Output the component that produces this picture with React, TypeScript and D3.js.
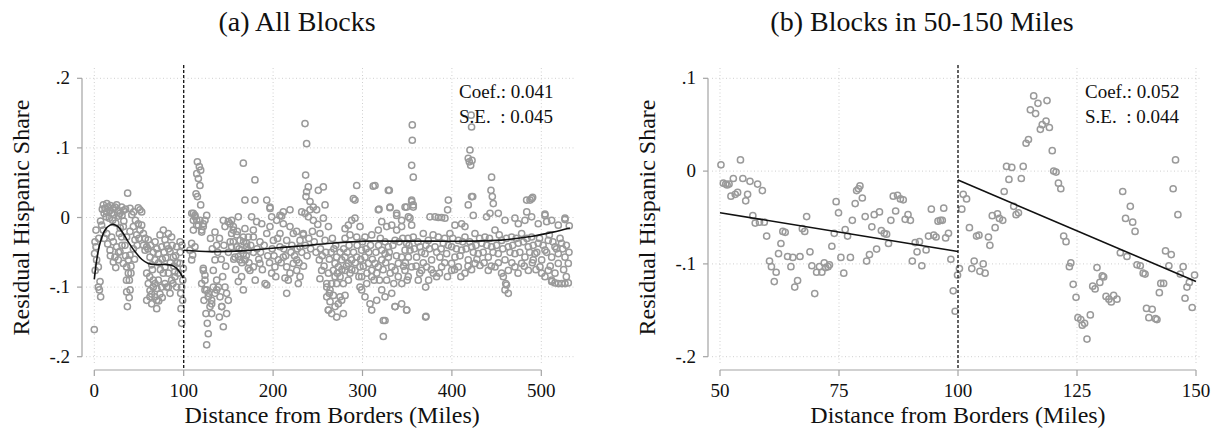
import React from 'react';
import * as d3 from 'd3';

// ---------- DATA ----------
const allXTicks = [0, 100, 200, 300, 400, 500];
const allYTicks = [-0.2, -0.1, 0, 0.1, 0.2];
const bandXTicks = [50, 75, 100, 125, 150];
const bandYTicks = [-0.2, -0.1, 0, 0.1];
const cutoff = 100;
const allStats = ['Coef.: 0.041', 'S.E.  : 0.045'];
const bandStats = ['Coef.: 0.052', 'S.E.  : 0.044'];

const allBlocks: [number, number][] = [
  [0,-0.161],[0.8,-0.035],[1.9,-0.042],[0.3,-0.052],[2.6,-0.061],[4.5,-0.071],[1,-0.076],
  [6.4,-0.092],[5.7,-0.104],[7.1,-0.114],[4.5,-0.1],[1.9,-0.018],
  [10.1,0.018],[12,0.013],[13.9,0.008],[11,0.006],[15.7,0.015],[17.6,0.01],[19.4,0.006],[21.3,0.013],[23.1,0.015],[25,0.018],[26.9,0.01],[28.7,0.006],[30.6,0.015],[32.5,0.01],[13.1,0.001],[16.8,-0.001],[20.5,-0.004],
  [8.2,-0.011],[10.1,-0.018],[13.9,-0.023],[19.4,-0.028],[21.3,-0.035],[25,-0.042],[28.7,-0.049],[17.6,-0.047],[23.1,-0.057],[21.3,-0.064],[26.9,-0.061],[32.5,-0.066],[36.2,-0.071],[38.1,-0.061],[39.9,-0.054],[43.7,-0.045],[45.5,-0.032],[47.4,-0.025],[51.1,-0.018],[53,-0.011],[54.9,-0.023],[49.2,-0.009],[43.7,-0.013],[39.9,-0.02],[36.2,-0.028],[34.3,-0.04],[30.6,-0.028],[32.5,-0.013],[28,-0.023],
  [37.3,0.035],[49.2,0.014],[51.1,0.011],[53,0.008],
  [38.1,-0.08],[39.2,-0.09],[40,-0.104],[37,-0.128],
  [56.8,-0.047],[58.6,-0.042],[62.3,-0.057],[64.2,-0.068],[60.4,-0.032],[67.9,-0.061],[71.6,-0.052],[75.4,-0.042],[79.1,-0.032],[81,-0.04],[84.7,-0.049],[88.4,-0.057],[92.1,-0.042],[95.9,-0.035],[77.2,-0.018],[82.8,-0.023],[73.5,-0.025],[86.5,-0.028],
  [58.6,-0.08],[60.4,-0.095],[62.3,-0.105],[64.2,-0.11],[66,-0.1],[67.9,-0.114],[69.8,-0.119],[64.2,-0.124],[69.8,-0.131],[73.5,-0.11],[75.4,-0.1],[71.6,-0.09],[77.2,-0.08],[66,-0.09],[62.3,-0.114],[58.6,-0.119],
  [79.1,-0.071],[82.8,-0.08],[86.5,-0.09],[90.2,-0.085],[92.1,-0.1],[81,-0.1],[84.7,-0.109],
  [97.7,-0.1],[96.6,-0.109],[98.8,-0.119],[97,-0.131],[97.7,-0.152],[95.9,-0.066],[99.6,-0.073],
  [5,-0.03],[7,-0.005],[9,0.012],[14,0.02],[18,0.017],[22,0.004],[24,-0.008],[27,0.002],[29,-0.015],[31,0.003],[33,-0.005],[35,0.012],[40,0.013],[42,0.004],[44,0.008],[46,-0.004],[11,-0.03],[15,-0.038],[18,-0.055],[24,-0.072],[27,-0.05],[31,-0.04],[35,-0.055],[41,-0.07],[45,-0.06],[48,-0.04],[50,-0.03],[55,-0.04],[57,-0.03],[60,-0.045],[63,-0.04],[66,-0.05],[68,-0.035],[70,-0.045],[72,-0.065],[74,-0.075],[76,-0.06],[78,-0.05],[80,-0.058],[83,-0.045],[85,-0.065],[87,-0.04],[89,-0.07],[91,-0.055],[93,-0.065],[94,-0.08],[96,-0.05],[98,-0.04],[99,-0.09],[62,-0.085],[65,-0.075],[68,-0.095],[70,-0.102],[72,-0.12],[76,-0.115],[79,-0.095],[83,-0.1],[88,-0.095],[90,-0.078],[36,-0.09],[39,-0.115],[41,-0.08],[36.2,-0.107],
  [115.3,0.08],[117.5,0.073],[119,0.068],[114.6,0.063],[116.4,0.056],[118.2,0.046],[113.8,0.034],[115.3,0.03],[119,0.018],
  [110.8,0.006],[112.7,0.001],[114.6,-0.004],[116.4,-0.011],[110.8,-0.018],[122,-0.009],[120.1,-0.021],[125.7,0.003],[123.8,-0.004],
  [108.9,-0.037],[112.6,-0.042],[110,-0.054],[122,-0.076],[123.8,-0.09],[125.7,-0.104],[122.7,-0.119],[127.5,-0.109],[129.4,-0.128],[124.9,-0.138],[126.4,-0.152],[127.5,-0.167],[125.7,-0.183],[131.3,-0.138],[131.3,-0.119],[135,-0.061],[133.1,-0.076],[136.9,-0.09],[136.9,-0.104],[140.6,-0.114],[142.5,-0.128],[139.9,-0.143],[144.3,-0.157],[148,-0.138],[148,-0.109],[149.9,-0.119],[146.2,-0.1],[143.6,-0.085],
  [135,-0.021],[136.9,-0.04],[144.3,-0.004],[151.8,-0.009],[153.6,-0.023],[155.5,-0.035],[159.2,-0.042],[157.4,-0.057],[163,-0.061],[166.7,-0.052],[170.4,-0.042],[172.3,-0.028],[168.5,-0.016],[177.9,-0.018],[181.6,-0.006],[176,0.001],[179.7,0.025],[168.5,0.025],[166.7,0.078],[179.7,0.054],[161.1,0.001],[155.5,-0.013],
  [164.8,-0.085],[161.1,-0.092],[166.7,-0.104],[174.1,-0.076],[177.9,-0.071],[185.3,-0.066],[191,-0.095],[192.9,-0.097],[198.4,-0.08],[202.1,-0.071],[205.9,-0.061],[211.4,-0.057],[215.2,-0.071],[218.9,-0.08],[213.3,-0.087],[222.6,-0.066],[226.4,-0.076],[230.1,-0.085],[228.2,-0.095],[215.2,-0.109],
  [177.9,-0.028],[185.3,-0.035],[192.9,-0.023],[200.3,-0.033],[207.7,-0.042],[215.2,-0.033],[222.6,-0.023],[230.1,-0.033],[207.7,-0.023],[187.3,-0.009],[196.5,-0.013],[204,-0.004],[211.4,-0.009],[218.9,-0.013],[226.4,-0.02],[233.8,-0.025],
  [196.5,0.015],[207.7,0.003],[211.4,0.008],[218.9,0.011],[192.9,0.025],[198.4,0.001],[196.6,0.013],[209.6,0.002],
  [235.7,0.135],[237.5,0.106],[236.4,0.061],[239.4,0.044],[237.5,0.037],[236.8,0.03],[241.3,0.023],
  [232,0.008],[235.7,0.006],[241.3,0.011],[245,0.015],[248.7,0.011],[239.4,0.001],[245,-0.004],
  [250.6,0.039],[256.2,0.044],[258.1,0.018],[256.2,-0.001],[261.9,-0.013],[252.4,-0.023],[258.1,-0.033],
  [251.7,-0.061],[254.3,-0.076],[252.4,-0.088],[261.9,-0.08],[260,-0.1],[262.9,-0.109],[261.9,-0.133],
  [233.8,-0.023],[230.1,-0.042],[226.4,-0.061],
  [109,0.006],[110.8,-0.004],[112.6,0.003],[114.5,-0.011],[118.2,-0.004],[120.1,-0.018],[121.9,-0.013],
  [107,-0.047],[108.9,-0.061],[121.9,-0.073],[123.8,-0.083],[120.1,-0.095],[123.8,-0.104],[127.5,-0.114],[131.3,-0.124],[135,-0.109],[138.8,-0.1],[133.1,-0.1],[142.5,-0.128],
  [146.2,-0.013],[149.9,-0.006],[153.6,-0.004],[155.5,-0.018],[159.2,-0.025],[163,-0.033],[166.7,-0.028],[170.4,-0.037],[172.3,-0.047],[164.8,-0.047],[161.1,-0.056],[153.6,-0.042],[168.5,-0.061],[172.3,-0.073],
  [130,-0.03],[132,-0.045],[138,-0.05],[140,-0.03],[142,-0.06],[145,-0.04],[147,-0.07],[150,-0.05],[152,-0.035],[156,-0.06],[158,-0.075],[160,-0.02],[162,-0.045],[165,-0.065],[167,-0.035],[170,-0.055],[173,-0.065],[175,-0.04],[178,-0.05],[180,-0.09],
  [182,-0.045],[184,-0.06],[186,-0.05],[188,-0.075],[190,-0.04],[194,-0.055],[196,-0.065],[199,-0.045],[201,-0.055],[203,-0.085],[205,-0.03],[209,-0.065],[212,-0.045],[214,-0.055],[217,-0.09],[220,-0.05],[221,-0.04],[224,-0.055],[227,-0.045],[229,-0.065],[232,-0.05],[234,-0.07],[236,-0.04],[238,-0.055],[240,-0.03],[242,-0.045],[244,-0.02],[246,-0.035],[248,-0.05],[250,-0.01],[253,-0.045],[255,-0.055],[257,-0.07],[259,-0.05],[263,-0.06],
  [266.3,-0.03],
  [271.1,-0.057],[269.3,-0.066],[267.4,-0.076],[273,-0.071],[276.7,-0.061],[280.5,-0.057],[284.2,-0.066],[287.9,-0.061],[293.5,-0.057],[297.2,-0.071],[291.6,-0.076],[286,-0.08],[280.5,-0.076],[274.9,-0.085],[269.3,-0.085],[265.5,-0.095],[271.1,-0.095],[278.6,-0.095],[284.2,-0.09],[299.1,-0.047],[302.8,-0.057],[306.6,-0.066],[310.3,-0.076],[314,-0.066],[317.7,-0.071],[310.3,-0.085],[315.9,-0.08],[321.5,-0.061],[325.2,-0.052],[328.9,-0.057],[332.7,-0.071],[336.4,-0.076],[340.1,-0.066],[343.8,-0.057],[347.6,-0.047],[351.3,-0.057],[299.1,-0.085],[304.7,-0.095],[297.2,-0.1],
  [280.5,-0.016],[284.2,-0.011],[287.9,-0.004],[291.6,-0.001],[297.2,-0.013],[291.6,0.025],[293.5,0.046],[289.8,0.027],
  [280.5,-0.03],[286,-0.025],[293.5,-0.028],[302.8,-0.028],[310.3,-0.025],[317.7,-0.018],[321.5,-0.006],[314,0.046],
  [317.7,0.011],[328.9,0.039],[330.8,0.015],[338.2,0.003],[343.8,-0.004],[347.6,0.015],[351.3,0.001],
  [327.1,-0.013],[332.7,-0.011],[338.2,-0.018],[343.8,-0.013],[336.4,-0.033],[328.9,-0.042],[325.2,-0.035],[321.5,-0.047],
  [260,-0.114],[263.7,-0.121],[261.8,-0.133],[265.5,-0.138],[269.3,-0.128],[273,-0.124],[276.7,-0.119],[280.5,-0.112],[267.4,-0.112],[274.9,-0.114],[278.6,-0.138],[271.1,-0.143],[263.7,-0.104],[260,-0.095],
  [299.1,-0.104],[302.8,-0.114],[308.4,-0.124],[310.3,-0.133],[315.9,-0.119],[321.5,-0.104],[325.2,-0.114],[332.7,-0.109],[336.4,-0.128],[343.8,-0.124],[349.4,-0.133],[323.3,-0.148],[325.2,-0.148],[323.3,-0.171],
  [265,-0.05],[268,-0.045],[270,-0.04],[272,-0.08],[275,-0.05],[277,-0.075],[279,-0.045],[282,-0.07],[283,-0.05],[285,-0.04],[288,-0.075],[290,-0.05],[292,-0.065],[294,-0.04],[296,-0.085],[298,-0.06],[300,-0.035],[301,-0.07],[304,-0.045],[305,-0.08],[307,-0.05],[309,-0.04],[311,-0.06],[313,-0.09],[315,-0.05],[318,-0.04],[319,-0.09],[320,-0.03],[323,-0.075],[326,-0.065],[327,-0.09],[330,-0.05],[331,-0.08],[334,-0.04],[335,-0.095],[338,-0.055],[340,-0.085],[341,-0.035],[344,-0.095],[345,-0.03],[346,-0.07],[348,-0.065],[350,-0.09],[352,-0.04],
  [312,0.045],[330,0.039],[318.5,0.012],[330.7,0.014],[338.2,0.006],[349.4,0.015],[355,0.023],[356.8,0.015],
  [355.7,0.133],[355.7,0.111],[355,0.075],[356.8,0.058],[420.2,0.097],[418.3,0.085],[419.5,0.08],[421,0.075],[422,0.13],[421.5,0.147],[422.5,0.082],[423.3,0.03],
  [444.4,0.058],[443.7,0.039],[445.2,0.03],[446.3,0.02],[396,0.025],[395.2,0.011],[422,0.03],[418.3,0.018],[489.2,0.027],[483.6,0.025],[355,0.025],[356.8,0.018],[353.1,-0.001],[355,-0.011],
  [487.4,0.025],[490.3,0.029],[483.7,0.008],[504.1,0.005],[506,-0.006],[526.5,-0.003],[531.3,-0.012],
  [375.5,0.001],[381.1,0.001],[384.8,0],[388.5,0],[392.2,-0.001],[403.4,-0.011],[410.9,-0.009],[414.6,-0.013],[423.9,0.003],[438.8,0.001],[442.6,0.006],[451.9,0.006],[459.4,-0.004],[470.5,-0.001],[474.3,-0.009],[481.7,-0.004],[489.2,0.001],[496.6,-0.009],[504.1,0.003],[511.6,-0.004],[519,-0.011],[526.5,-0.001],
  [349.4,-0.037],[353.1,-0.047],[356.8,-0.028],[360.5,-0.057],[364.3,-0.042],[368,-0.023],[369.9,-0.052],[373.6,-0.033],[377.3,-0.061],[381.1,-0.042],[384.8,-0.028],[386.6,-0.057],[390.4,-0.037],[394.1,-0.052],[397.8,-0.023],[399.7,-0.042],[403.4,-0.057],[407.2,-0.033],[410.9,-0.047],[414.6,-0.028],[418.3,-0.061],[422.1,-0.042],[425.8,-0.023],[429.5,-0.052],[433.3,-0.037],[437,-0.028],[440.7,-0.057],[444.4,-0.042],[448.2,-0.018],[451.9,-0.052],[455.6,-0.033],[459.4,-0.061],[463.1,-0.042],[466.8,-0.028],[470.5,-0.052],[474.3,-0.037],[478,-0.023],[481.7,-0.057],[485.5,-0.042],[489.2,-0.028],[492.9,-0.052],[496.6,-0.037],[500.4,-0.061],[504.1,-0.047],[507.8,-0.033],[511.6,-0.057],[515.3,-0.042],[519,-0.052],[522.7,-0.037],[526.5,-0.057],[530.2,-0.066],
  [351,-0.03],[358,-0.045],[362,-0.035],[366,-0.05],[371,-0.04],[375,-0.045],[379,-0.025],[383,-0.05],[388,-0.045],[392,-0.03],[396,-0.04],[401,-0.03],[405,-0.045],[409,-0.055],[412,-0.035],[416,-0.045],[420,-0.035],[424,-0.05],[427,-0.04],[431,-0.03],[435,-0.05],[439,-0.04],[442,-0.03],[446,-0.05],[450,-0.04],[453,-0.025],[457,-0.045],[461,-0.03],[465,-0.05],[468,-0.04],[472,-0.03],[476,-0.05],[480,-0.035],[484,-0.03],[487,-0.05],[491,-0.04],[495,-0.05],[498,-0.03],[502,-0.04],[506,-0.05],[509,-0.025],[513,-0.035],[517,-0.045],[521,-0.03],[524,-0.045],[528,-0.04],[531,-0.05],
  [347.5,-0.076],[351.2,-0.085],[355,-0.071],[362.4,-0.09],[366.1,-0.076],[371.7,-0.071],[379.2,-0.08],[382.9,-0.085],[388.5,-0.071],[399.7,-0.076],[407.2,-0.071],[414.6,-0.08],[425.8,-0.066],[431.4,-0.069],[440.7,-0.076],[448.2,-0.071],[455.6,-0.08],[457.5,-0.085],[463.1,-0.076],[470.5,-0.071],[478,-0.066],[485.5,-0.076],[498.5,-0.071],[500.4,-0.08],[504.1,-0.085],[507.8,-0.076],[511.6,-0.09],[515.3,-0.08],[519,-0.066],[459.4,-0.104],[461.2,-0.097],[463.1,-0.109],[370.6,-0.1],[349.4,-0.133],[370.6,-0.143],[399.7,-0.066],[491,-0.061],[460.2,-0.095],[336.4,-0.128],[371,-0.142],
  [360,-0.07],[364,-0.08],[368,-0.065],[374,-0.09],[377,-0.075],[386,-0.08],[392,-0.065],[395,-0.085],[403,-0.075],[410,-0.085],[418,-0.07],[422,-0.075],[428,-0.06],[436,-0.065],[444,-0.07],[452,-0.065],[467,-0.065],[474,-0.08],[481,-0.07],[490,-0.065],[494,-0.075],[510,-0.07],[525,-0.075],[528,-0.085],
  [511.6,-0.092],[515.3,-0.094],[519,-0.095],[522.8,-0.095],[526.5,-0.095],[530.2,-0.094]
];

const fitAllBelow: [number, number][] = [
  [0,-0.089],[2.7,-0.061],[6.4,-0.037],[12,-0.018],[17.6,-0.011],[22,-0.01],[26.8,-0.0135],[32.4,-0.023],[38,-0.035],[45.5,-0.049],[53,-0.06],[60.4,-0.066],[69.8,-0.0676],[79,-0.0676],[86.6,-0.0685],[92.1,-0.073],[95.8,-0.079],[99.5,-0.087]
];
const fitAllAbove: [number, number][] = [
  [100,-0.047],[130,-0.049],[165,-0.048],[195,-0.0445],[230,-0.041],[265,-0.037],[305,-0.034],[340,-0.034],[380,-0.034],[420,-0.034],[455,-0.0325],[490,-0.027],[513,-0.021],[532,-0.015]
];

const bandBlocks: [number, number][] = [
  [50.2,0.0068],[50.7,-0.013],[51.2,-0.014],[51.5,-0.015],[51.9,-0.014],[52.3,-0.027],[52.8,-0.008],[53.2,-0.025],[53.7,-0.023],[54.3,0.012],[54.8,-0.008],[55.4,-0.032],[55.8,-0.025],[56.3,-0.011],[56.9,-0.048],[57.4,-0.056],[57.9,-0.014],[58.3,-0.055],[58.9,-0.021],[59.3,-0.055],[59.8,-0.07],[60.4,-0.097],[60.8,-0.103],[61.4,-0.119],[61.8,-0.109],[62.3,-0.089],[62.8,-0.078],[63.2,-0.065],[63.7,-0.066],[64.2,-0.092],[64.9,-0.103],[65.3,-0.093],[65.7,-0.125],[66.3,-0.118],[66.8,-0.092],[67.3,-0.062],[67.8,-0.065],[68.2,-0.049],[68.9,-0.087],[69.3,-0.102],[69.9,-0.132],[70.3,-0.109],[70.9,-0.103],[71.4,-0.109],[71.9,-0.099],[72.2,-0.104],[72.7,-0.103],[73,-0.101],[73.5,-0.081],[74,-0.067],[74.4,-0.033],[74.9,-0.045],[75.4,-0.093],[76,-0.11],[76.3,-0.063],[76.8,-0.07],[77.4,-0.093],[77.8,-0.053],[78.4,-0.035],[78.7,-0.021],[79.1,-0.019],[79.4,-0.016],[79.9,-0.029],[80.5,-0.049],[80.8,-0.097],[81.4,-0.09],[81.9,-0.06],[82.4,-0.047],[83.5,-0.044],[82.9,-0.084],[83.9,-0.064],[84.5,-0.067],[85,-0.068],[85.4,-0.078],[85.9,-0.053],[86.4,-0.027],[87.3,-0.026],[87.9,-0.03],[88.5,-0.031],[86.9,-0.043],[88.9,-0.052],[89.5,-0.047],[90,-0.053],[90.4,-0.097],[91,-0.077],[91.4,-0.087],[91.9,-0.076],[92.4,-0.102],[93.3,-0.085],[93.8,-0.07],[94.4,-0.041],[94.9,-0.069],[95.4,-0.071],[95.8,-0.054],[96.3,-0.053],[96.7,-0.053],[97,-0.04],[97.4,-0.072],[98,-0.067],[98.5,-0.095],[99,-0.129],[99.4,-0.151],[99.9,-0.112],
  [100.3,-0.105],[101.1,-0.025],[101.8,-0.03],[100.8,-0.041],[102.4,-0.061],[102.9,-0.105],[103.4,-0.097],[103.9,-0.07],[104.4,-0.069],[104.6,-0.108],[105.3,-0.1],[105.7,-0.11],[106.4,-0.071],[106.7,-0.08],[107.2,-0.048],[107.8,-0.061],[108.3,-0.046],[108.7,-0.051],[109.4,-0.053],[109.7,-0.022],[110.2,0.005],[111.3,0.004],[110.7,-0.009],[111.7,-0.038],[112.2,-0.047],[112.7,-0.045],[113.3,-0.008],[113.7,0.005],[114.3,0.03],[114.8,0.034],[115.2,0.066],[115.9,0.081],[116.3,0.062],[116.8,0.073],[117.3,0.045],[117.7,0.05],[118.5,0.054],[119.2,0.047],[118.7,0.076],[119.8,0.022],[120.1,0],[120.6,-0.001],[121.1,-0.013],[121.6,-0.019],[122.2,-0.07],[122.7,-0.076],[123.4,-0.103],[123.7,-0.099],[124.2,-0.122],[124.8,-0.136],[125.2,-0.158],[125.8,-0.16],[126.1,-0.166],[126.6,-0.164],[127.1,-0.181],[127.8,-0.155],[128.3,-0.124],[128.8,-0.127],[129.2,-0.104],[129.8,-0.12],[130.3,-0.113],[130.6,-0.114],[131.1,-0.135],[131.7,-0.138],[132.2,-0.141],[132.7,-0.134],[133.4,-0.138],[134.1,-0.088],[135.5,-0.092],[134.6,-0.022],[135.2,-0.051],[136.7,-0.055],[137.2,-0.065],[136.2,-0.038],[137.6,-0.101],[138.3,-0.102],[138.9,-0.11],[139.3,-0.111],[139.6,-0.148],[140.1,-0.158],[140.8,-0.149],[141.5,-0.159],[141.8,-0.16],[142.3,-0.131],[142.6,-0.121],[143.2,-0.121],[143.6,-0.086],[144.8,-0.09],[144.3,-0.102],[145.2,-0.019],[145.7,0.012],[146.2,-0.047],[146.7,-0.111],[147.3,-0.103],[147.7,-0.137],[148.1,-0.125],[148.6,-0.12],[149.2,-0.147],[149.7,-0.112]
];
const fitBandBelow: [number, number][] = [[50,-0.0448],[100,-0.0867]];
const fitBandAbove: [number, number][] = [[100,-0.0097],[150,-0.119]];

// ---------- DRAWING ----------
const FONT = '"Liberation Serif", "Times New Roman", Times, serif';
const fmtY = (v: number) => {
  if (Math.abs(v) < 1e-9) return '0';
  const s = d3.format('.1f')(Math.abs(v)).replace(/^0/, '');
  return (v < 0 ? '-' : '') + s;
};

type PanelProps = {
  title: string;
  titleX: number;
  points: [number, number][];
  fits: [number, number][][];
  xDomain: [number, number];
  xRange: [number, number];
  yDomain: [number, number];
  xTicks: number[];
  yTicks: number[];
  gridLeft: number;
  gridRight: number;
  axisX: number;
  stats: string[];
  statsX: number;
  curved: boolean;
};

function Panel(p: PanelProps) {
  const x = d3.scaleLinear().domain(p.xDomain).range(p.xRange);
  const y = d3.scaleLinear().domain(p.yDomain).range([356.7, 78.3]);
  const line = d3
    .line<[number, number]>()
    .x((d) => x(d[0]))
    .y((d) => y(d[1]))
    .curve(p.curved ? d3.curveCatmullRom.alpha(0.5) : d3.curveLinear);
  const gridColor = '#cfcfcf';
  const axisColor = '#a3a3a3';
  const plotTop = 68;
  const plotBottom = 364;
  const xAxisY = 370;
  const xMid = (p.xRange[0] + p.gridRight - 4) / 2;
  const yMid = (y(p.yDomain[0]) + y(p.yDomain[1])) / 2;
  return (
    <g>
      <text x={p.titleX} y={31} textAnchor="middle" fontFamily={FONT} fontSize={28} fill="#111">
        {p.title}
      </text>
      {p.yTicks.map((t) => (
        <line key={'hg' + t} x1={p.gridLeft} x2={p.gridRight} y1={y(t)} y2={y(t)}
          stroke={gridColor} strokeWidth={1} strokeDasharray="1 2.5" />
      ))}
      {p.xTicks.map((t) => (
        <line key={'vg' + t} x1={x(t)} x2={x(t)} y1={plotTop} y2={plotBottom}
          stroke={gridColor} strokeWidth={1} strokeDasharray="1 2.5" />
      ))}
      <line x1={p.axisX} x2={p.axisX} y1={y(p.yDomain[0])} y2={y(p.yDomain[1])} stroke={axisColor} strokeWidth={1.2} />
      {p.yTicks.map((t) => (
        <g key={'yt' + t}>
          <line x1={p.axisX - 5} x2={p.axisX} y1={y(t)} y2={y(t)} stroke={axisColor} strokeWidth={1.2} />
          <text x={p.axisX - 12} y={y(t) + 6} textAnchor="end" fontFamily={FONT} fontSize={19} fill="#111">
            {fmtY(t)}
          </text>
        </g>
      ))}
      <text transform={`translate(${p.axisX - 53},${yMid}) rotate(-90)`} textAnchor="middle"
        fontFamily={FONT} fontSize={24} fill="#111">
        Residual Hispanic Share
      </text>
      <line x1={x(p.xTicks[0])} x2={x(p.xTicks[p.xTicks.length - 1])} y1={xAxisY} y2={xAxisY} stroke={axisColor} strokeWidth={1.2} />
      {p.xTicks.map((t) => (
        <g key={'xt' + t}>
          <line x1={x(t)} x2={x(t)} y1={xAxisY} y2={xAxisY + 6} stroke={axisColor} strokeWidth={1.2} />
          <text x={x(t)} y={397} textAnchor="middle" fontFamily={FONT} fontSize={19} fill="#111">
            {t}
          </text>
        </g>
      ))}
      <text x={xMid} y={423} textAnchor="middle" fontFamily={FONT} fontSize={24} fill="#111">
        Distance from Borders (Miles)
      </text>
      {p.points.map((d, i) => (
        <circle key={'p' + i} cx={x(d[0])} cy={y(d[1])} r={3.1} fill="none" stroke="#9a9a9a" strokeWidth={1.5} />
      ))}
      {p.fits.map((f, i) => (
        <path key={'f' + i} d={line(f) || ''} fill="none" stroke="#111" strokeWidth={1.6} />
      ))}
      <line x1={x(cutoff)} x2={x(cutoff)} y1={65} y2={xAxisY} stroke="#111" strokeWidth={1.3} strokeDasharray="3 2" />
      {p.stats.map((s, i) => (
        <text key={'s' + i} x={p.statsX} y={98 + i * 25} fontFamily={FONT} fontSize={19} fill="#111"
          style={{ whiteSpace: 'pre' }}>
          {s}
        </text>
      ))}
    </g>
  );
}

export default function App() {
  return (
    <div style={{ position: 'absolute', left: 0, top: 0, background: '#fff' }}>
      <svg width={1222} height={438} viewBox="0 0 1222 438" style={{ display: 'block' }}>
        <rect width={1222} height={438} fill="#fff" />
        <Panel
          title="(a) All Blocks"
          titleX={297}
          points={allBlocks}
          fits={[fitAllBelow, fitAllAbove]}
          xDomain={[0, 500]}
          xRange={[94.3, 541.3]}
          yDomain={[-0.2, 0.2]}
          xTicks={allXTicks}
          yTicks={allYTicks}
          gridLeft={86}
          gridRight={574}
          axisX={82}
          stats={allStats}
          statsX={459}
          curved={true}
        />
        <Panel
          title="(b) Blocks in 50-150 Miles"
          titleX={922}
          points={bandBlocks}
          fits={[fitBandBelow, fitBandAbove]}
          xDomain={[50, 150]}
          xRange={[720, 1196]}
          yDomain={[-0.2, 0.1]}
          xTicks={bandXTicks}
          yTicks={bandYTicks}
          gridLeft={712}
          gridRight={1200}
          axisX={708}
          stats={bandStats}
          statsX={1085}
          curved={false}
        />
      </svg>
    </div>
  );
}
